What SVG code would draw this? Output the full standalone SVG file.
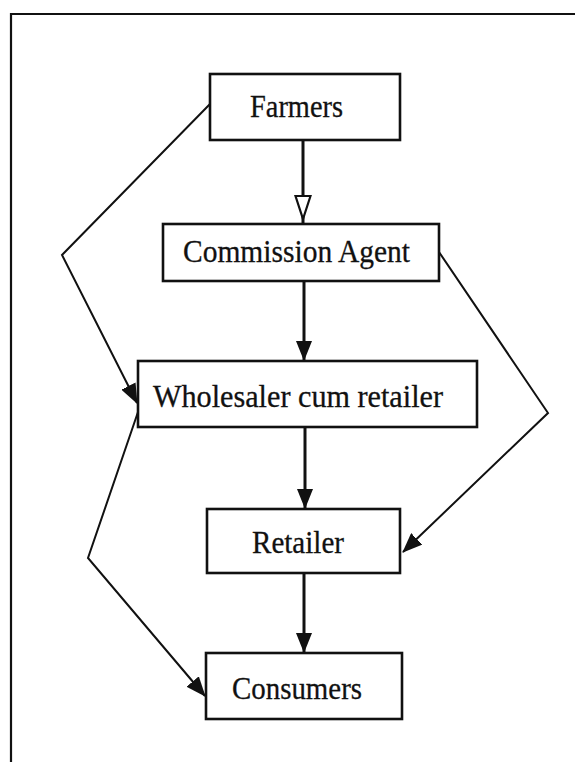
<svg xmlns="http://www.w3.org/2000/svg" width="575" height="762" viewBox="0 0 575 762">
<style>
.box{fill:#fff;stroke:#111;stroke-width:2.6}
.lbl{font-family:"Liberation Serif","Times New Roman",serif;font-size:32px;fill:#111;stroke:#111;stroke-width:0.3;text-anchor:middle}
.c{fill:none;stroke:#111;stroke-width:2}
.v{fill:none;stroke:#111;stroke-width:3}
</style>
<defs>
<marker id="fa" viewBox="0 0 20 16" refX="19" refY="8" markerWidth="20" markerHeight="16" markerUnits="userSpaceOnUse" orient="auto">
<path d="M0,0 L20,8 L0,16 Z" fill="#111"/>
</marker>
<marker id="ha" viewBox="0 0 26 18" refX="24" refY="9" markerWidth="26" markerHeight="18" markerUnits="userSpaceOnUse" orient="auto">
<path d="M1,1.5 L24,9 L1,16.5 Z" fill="#fff" stroke="#111" stroke-width="2.2"/>
</marker>
</defs>
<rect width="575" height="762" fill="#fff"/>
<path d="M11,762 L11,14 L575,14" fill="none" stroke="#111" stroke-width="2.2"/>
<g id="connectors">
<line class="v" x1="303" y1="140" x2="303" y2="219" marker-end="url(#ha)"/>
<line class="v" x1="303" y1="219" x2="303" y2="224"/>
<line class="v" x1="304" y1="281" x2="304" y2="360" marker-end="url(#fa)"/>
<line class="v" x1="305" y1="427" x2="305" y2="508" marker-end="url(#fa)"/>
<line class="v" x1="304" y1="573" x2="304" y2="652" marker-end="url(#fa)"/>
<polyline class="c" points="210,104 62,255 137,403" marker-end="url(#fa)"/>
<polyline class="c" points="439,252 548,413 403,552" marker-end="url(#fa)"/>
<polyline class="c" points="138,412 88,558 205,696" marker-end="url(#fa)"/>
</g>
<g id="farmers">
<rect class="box" x="210" y="74" width="190" height="66"/>
<text class="lbl" x="296.5" y="117" textLength="93" lengthAdjust="spacingAndGlyphs">Farmers</text>
</g>
<g id="commission-agent">
<rect class="box" x="163" y="224" width="276" height="57"/>
<text class="lbl" x="296.5" y="262" textLength="227" lengthAdjust="spacingAndGlyphs">Commission Agent</text>
</g>
<g id="wholesaler">
<rect class="box" x="138" y="361" width="339" height="66"/>
<text class="lbl" x="298" y="407" textLength="290" lengthAdjust="spacingAndGlyphs">Wholesaler cum retailer</text>
</g>
<g id="retailer">
<rect class="box" x="207" y="509" width="193" height="64"/>
<text class="lbl" x="298" y="553" textLength="92" lengthAdjust="spacingAndGlyphs">Retailer</text>
</g>
<g id="consumers">
<rect class="box" x="206" y="653" width="196" height="66"/>
<text class="lbl" x="297" y="699" textLength="130" lengthAdjust="spacingAndGlyphs">Consumers</text>
</g>
</svg>
